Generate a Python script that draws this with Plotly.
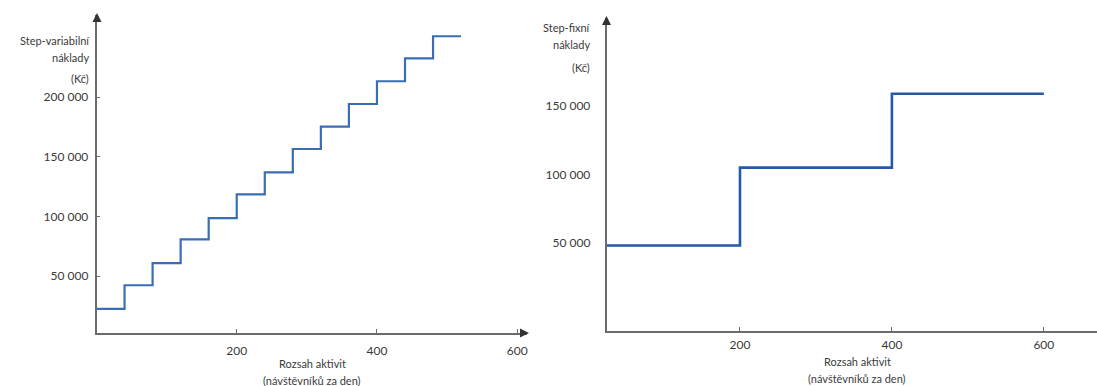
import plotly.graph_objects as go

# ---- data ----
var_x = [0, 40, 80, 120, 160, 200, 240, 280, 320, 360, 400, 440, 480, 520]
var_y = [22500, 42300, 60800, 80700, 98500, 118400, 136900, 156500, 175200,
         194200, 213300, 232500, 251000, 251000]

fix_x = [25, 200, 400, 600]
fix_y = [48000, 105000, 159000, 159000]

left_yticks = [50000, 100000, 150000, 200000]
left_yticklabels = ["50 000", "100 000", "150 000", "200 000"]
right_yticks = [50000, 100000, 150000]
right_yticklabels = ["50 000", "100 000", "150 000"]
xticks = [200, 400, 600]
xticklabels = ["200", "400", "600"]

left_ytitle = ["Step-variabilní", "náklady", "(Kč)"]
right_ytitle = ["Step-fixní", "náklady", "(Kč)"]
xtitle = ["Rozsah aktivit", "(návštěvníků za den)"]

W, H = 1097, 386
FONT = "Lato"
TXT = "#3a3a3a"
AX = "#6b6b6b"


def px(xp):
    return xp / W


def py(yp):
    return (H - yp) / H


fig = go.Figure()
fig.add_trace(go.Scatter(x=var_x, y=var_y, mode="lines", line_shape="hv",
                         line=dict(color="#3A6DB2", width=2.2),
                         xaxis="x", yaxis="y", showlegend=False))
fig.add_trace(go.Scatter(x=fix_x, y=fix_y, mode="lines", line_shape="hv",
                         line=dict(color="#2558A6", width=2.6),
                         xaxis="x2", yaxis="y2", showlegend=False))

axis_common = dict(showgrid=False, zeroline=False, showline=True,
                   linecolor=AX, linewidth=1.5, ticks="inside", ticklen=4,
                   tickcolor=AX, tickwidth=1,
                   tickfont=dict(family=FONT, size=12, color=TXT))

fig.update_layout(
    width=W, height=H, margin=dict(l=0, r=0, t=0, b=0),
    paper_bgcolor="white", plot_bgcolor="white",
    xaxis=dict(domain=[px(96.5), px(527)], range=[0, 614], anchor="y",
               tickvals=xticks, ticktext=xticklabels, ticklabelstandoff=6,
               **axis_common),
    yaxis=dict(domain=[py(333), py(15)], range=[2300, 268800], anchor="x",
               tickvals=left_yticks, ticktext=left_yticklabels,
               ticklabelstandoff=4, **axis_common),
    xaxis2=dict(domain=[px(606.5), 1.0], range=[24.3, 670], anchor="y2",
                tickvals=xticks, ticktext=xticklabels, ticklabelstandoff=2,
                **axis_common),
    yaxis2=dict(domain=[py(330.7), py(18)], range=[-14400, 214500],
                anchor="x2", tickvals=right_yticks,
                ticktext=right_yticklabels, ticklabelstandoff=12,
                **{**axis_common, "ticks": ""}),
)

ann = []
# y-axis titles
for txt, yp in zip(left_ytitle, [40, 58, 79]):
    ann.append(dict(text=txt, x=px(91), y=py(yp), xref="paper", yref="paper",
                    xanchor="right", yanchor="middle", showarrow=False,
                    font=dict(family=FONT, size=11, color=TXT)))
for txt, yp in zip(right_ytitle, [27, 45, 68]):
    ann.append(dict(text=txt, x=px(592), y=py(yp), xref="paper", yref="paper",
                    xanchor="right", yanchor="middle", showarrow=False,
                    font=dict(family=FONT, size=11, color=TXT)))
# x-axis titles
for txt, yp in zip(xtitle, [363, 380]):
    ann.append(dict(text=txt, x=px(312), y=py(yp), xref="paper", yref="paper",
                    xanchor="center", yanchor="middle", showarrow=False,
                    font=dict(family=FONT, size=11, color=TXT)))
for txt, yp in zip(xtitle, [361, 378]):
    ann.append(dict(text=txt, x=px(857), y=py(yp), xref="paper", yref="paper",
                    xanchor="center", yanchor="middle", showarrow=False,
                    font=dict(family=FONT, size=11, color=TXT)))
# arrowheads at axis ends
for (xe, ye, axo, ayo) in [(97, 13, 0, 8), (529, 333, -8, 0), (606.5, 16, 0, 8)]:
    ann.append(dict(text="", x=px(xe), y=py(ye), xref="paper", yref="paper",
                    showarrow=True, ax=axo, ay=ayo, arrowhead=2, arrowsize=1.2,
                    arrowwidth=1.5, arrowcolor="#333333"))
fig.update_layout(annotations=ann)

fig.write_html("out.html",
               config={"displayModeBar": False},
               post_script="document.body.style.margin='0';"
                           "document.body.style.overflow='hidden';")
